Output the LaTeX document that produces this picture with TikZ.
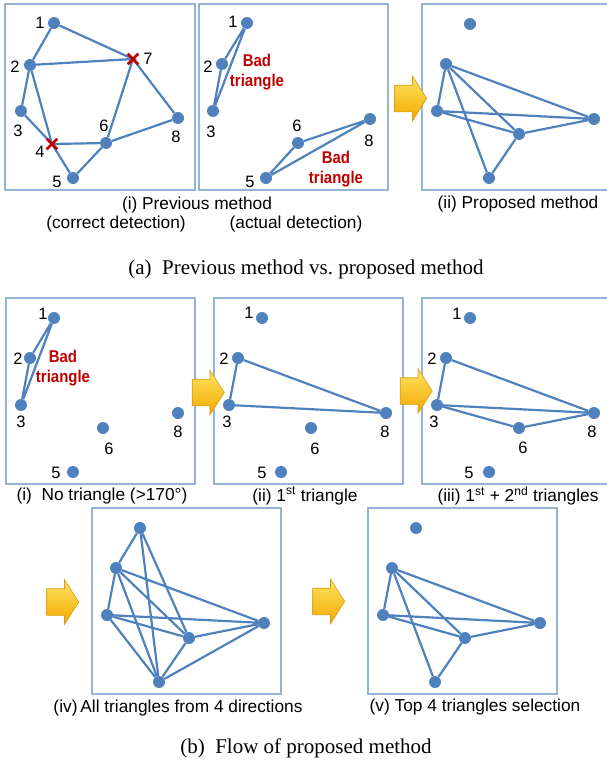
\documentclass[tikz,border=0pt]{standalone}
\usepackage{fontspec}
\setmainfont{Liberation Sans}
\newfontfamily\capfont{Liberation Serif}
\newfontfamily\badfont[FakeStretch=0.88]{Liberation Sans}
\usepackage{tikz}
\usetikzlibrary{shapes.arrows, shapes.misc, positioning}
\definecolor{dotblue}{RGB}{79,129,189}
\definecolor{boxblue}{RGB}{149,179,215}
\definecolor{badred}{RGB}{192,0,0}
\definecolor{arrowtop}{RGB}{255,228,96}
\definecolor{arrowbot}{RGB}{242,168,0}
\definecolor{arrowedge}{RGB}{214,158,20}

\begin{document}
\begin{tikzpicture}[
        x=1pt, y=-1pt,
        panel/.style={draw=boxblue, line width=1.1pt},
        dot/.style={circle, fill=dotblue, inner sep=0pt, minimum size=12pt},
        xmark/.style={cross out, draw=badred, line width=2.6pt, inner sep=0pt, minimum size=8pt},
        edge/.style={draw=dotblue, line width=2.2pt},
        num/.style={font=\fontsize{16.5}{18}\selectfont, inner sep=0pt},
        bad/.style={font=\badfont\fontsize{17}{20}\selectfont\bfseries, text=badred, align=center, inner sep=0pt},
        captxt/.style={font=\fontsize{17.3}{20}\selectfont, inner sep=0pt},
        subcap/.style={font=\capfont\fontsize{21}{24}\selectfont, inner sep=0pt},
        yarrow/.style={single arrow, single arrow tip angle=115, single arrow head extend=9pt,
            minimum height=32pt, minimum width=44pt, inner xsep=0pt, inner ysep=13pt,
            top color=arrowtop, bottom color=arrowbot, draw=arrowedge, line width=0.6pt}
    ]
        \clip (0,0) rectangle (607,771);

        % (a)(i) previous method, correct detection
        \begin{scope}[shift={(5,4)}]
        \draw[panel] (0,0) rectangle (190,186);
        \node[dot] (ok1) at (49,19) {};
        \node[dot] (ok2) at (25,61) {};
        \node[dot] (ok3) at (16,107) {};
        \coordinate (ok4) at (47,140);
        \node[dot] (ok5) at (68,174) {};
        \node[dot] (ok6) at (101,139) {};
        \coordinate (ok7) at (128,55);
        \node[dot] (ok8) at (173,114) {};
        \draw[edge] (ok1) -- (ok2) -- (ok3) -- (ok4);
        \draw[edge] (ok1) -- (ok7) -- (ok2) -- (ok4) -- (ok5) -- (ok6) -- (ok4);
        \draw[edge] (ok7) -- (ok6) -- (ok8) -- (ok7);
        \node[xmark] (ok4x) at (ok4) {};
        \node[xmark] (ok7x) at (ok7) {};
        \node[num] (ok1l) at (35,19) {1};
        \node[num] (ok2l) at (10,63) {2};
        \node[num] (ok3l) at (13,127) {3};
        \node[num] (ok4l) at (35,148) {4};
        \node[num] (ok5l) at (52,178) {5};
        \node[num] (ok6l) at (99,122) {6};
        \node[num] (ok7l) at (143,55) {7};
        \node[num] (ok8l) at (171,133) {8};
        \end{scope}

        % (a)(i) previous method, actual detection
        \begin{scope}[shift={(199,4)}]
        \draw[panel] (0,0) rectangle (189,186);
        \node[dot] (act1) at (48,19) {};
        \node[dot] (act2) at (23,60) {};
        \node[dot] (act3) at (14,107) {};
        \node[dot] (act6) at (99,139) {};
        \node[dot] (act8) at (171,115) {};
        \node[dot] (act5) at (67,174) {};
        \draw[edge] (act1) -- (act2) -- (act3) -- (act1);
        \draw[edge] (act5) -- (act6) -- (act8) -- (act5);
        \node[num] (act1l) at (34,18) {1};
        \node[num] (act2l) at (9,63) {2};
        \node[num] (act3l) at (12,128) {3};
        \node[num] (act6l) at (98,122) {6};
        \node[num] (act8l) at (170,137) {8};
        \node[num] (act5l) at (51,178) {5};
        \node[bad] (actbad1) at (58,68) {Bad\\triangle};
        \node[bad] (actbad2) at (137,165) {Bad\\triangle};
        \end{scope}

        % (a)(ii) proposed method
        \begin{scope}[shift={(422,4)}]
        \draw[panel] (0,0) rectangle (189,186);
        \node[dot] (prop1) at (48,20) {};
        \node[dot] (prop2) at (24,60) {};
        \node[dot] (prop3) at (15,107) {};
        \node[dot] (prop6) at (97,130) {};
        \node[dot] (prop8) at (172,115) {};
        \node[dot] (prop5) at (67,174) {};
        \draw[edge] (prop3) -- (prop2) -- (prop8) -- (prop3) -- (prop6) -- (prop8);
        \draw[edge] (prop2) -- (prop6) -- (prop5) -- (prop2);
        \end{scope}

        % (b)(i) no triangle
        \begin{scope}[shift={(6,298)}]
        \draw[panel] (0,0) rectangle (189,186);
        \node[dot] (no1) at (48,20) {};
        \node[dot] (no2) at (24,60) {};
        \node[dot] (no3) at (15,107) {};
        \node[dot] (no6) at (97,130) {};
        \node[dot] (no8) at (172,115) {};
        \node[dot] (no5) at (67,174) {};
        \draw[edge] (no1) -- (no2) -- (no3) -- (no1);
        \node[num] (no1l) at (37,16) {1};
        \node[num] (no2l) at (12,61) {2};
        \node[num] (no3l) at (15,124) {3};
        \node[num] (no6l) at (103,151) {6};
        \node[num] (no8l) at (172,134) {8};
        \node[num] (no5l) at (50,175) {5};
        \node[bad] (nobad) at (57,70) {Bad\\triangle};
        \end{scope}

        % (b)(ii) 1st triangle
        \begin{scope}[shift={(214,298)}]
        \draw[panel] (0,0) rectangle (189,186);
        \node[dot] (fst1) at (48,20) {};
        \node[dot] (fst2) at (24,60) {};
        \node[dot] (fst3) at (15,107) {};
        \node[dot] (fst6) at (97,130) {};
        \node[dot] (fst8) at (172,115) {};
        \node[dot] (fst5) at (67,174) {};
        \draw[edge] (fst2) -- (fst3) -- (fst8) -- (fst2);
        \node[num] (fst1l) at (35,15) {1};
        \node[num] (fst2l) at (10,61) {2};
        \node[num] (fst3l) at (13,124) {3};
        \node[num] (fst6l) at (101,151) {6};
        \node[num] (fst8l) at (171,134) {8};
        \node[num] (fst5l) at (48,175) {5};
        \end{scope}

        % (b)(iii) 1st + 2nd triangles
        \begin{scope}[shift={(422,298)}]
        \draw[panel] (0,0) rectangle (189,186);
        \node[dot] (snd1) at (48,20) {};
        \node[dot] (snd2) at (24,60) {};
        \node[dot] (snd3) at (15,107) {};
        \node[dot] (snd6) at (97,130) {};
        \node[dot] (snd8) at (172,115) {};
        \node[dot] (snd5) at (67,174) {};
        \draw[edge] (snd2) -- (snd3) -- (snd8) -- (snd2);
        \draw[edge] (snd3) -- (snd6) -- (snd8);
        \node[num] (snd1l) at (35,16) {1};
        \node[num] (snd2l) at (10,61) {2};
        \node[num] (snd3l) at (12,124) {3};
        \node[num] (snd6l) at (101,150) {6};
        \node[num] (snd8l) at (170,134) {8};
        \node[num] (snd5l) at (47,175) {5};
        \end{scope}

        % (b)(iv) all triangles
        \begin{scope}[shift={(92,508)}]
        \draw[panel] (0,0) rectangle (189,186);
        \node[dot] (all1) at (48,20) {};
        \node[dot] (all2) at (24,60) {};
        \node[dot] (all3) at (15,107) {};
        \node[dot] (all6) at (97,130) {};
        \node[dot] (all8) at (172,115) {};
        \node[dot] (all5) at (67,174) {};
        \draw[edge] (all1) -- (all2) -- (all3) -- (all8) -- (all2) -- (all6) -- (all8) -- (all5) -- (all1) -- (all6);
        \draw[edge] (all2) -- (all5) -- (all3) -- (all6) -- (all5);
        \end{scope}

        % (b)(v) top 4 triangles
        \begin{scope}[shift={(368,508)}]
        \draw[panel] (0,0) rectangle (189,186);
        \node[dot] (top1) at (48,20) {};
        \node[dot] (top2) at (24,60) {};
        \node[dot] (top3) at (15,107) {};
        \node[dot] (top6) at (97,130) {};
        \node[dot] (top8) at (172,115) {};
        \node[dot] (top5) at (67,174) {};
        \draw[edge] (top3) -- (top2) -- (top8) -- (top3) -- (top6) -- (top8);
        \draw[edge] (top2) -- (top6) -- (top5) -- (top2);
        \end{scope}

        % flow arrows
        \node[yarrow] (arrprop) at (406.5,98.5) {};
        \node[yarrow] (arrfst) at (204,392.5) {};
        \node[yarrow] (arrsnd) at (412,391) {};
        \node[yarrow] (arrall) at (58.5,602) {};
        \node[yarrow] (arrtop) at (324.5,601.5) {};

        % captions
        \node[captxt] (capprev) at (197,205) {(i) Previous method};
        \node[captxt] (capok) at (116,224) {(correct detection)};
        \node[captxt] (capact) at (296,224) {(actual detection)};
        \node[captxt] (capprop) at (518,204) {(ii) Proposed method};
        \node[subcap] (capa) at (306,269) {(a)\ \ Previous method vs.\ proposed method};
        \node[captxt] (capno) at (102,496) {(i)\ \ No triangle (>170°)};
        \node[captxt] (capfst) at (305,496) {(ii) 1\textsuperscript{st} triangle};
        \node[captxt] (capsnd) at (518,496) {(iii) 1\textsuperscript{st} + 2\textsuperscript{nd} triangles};
        \node[captxt] (capall) at (178,708) {(iv)\,All triangles from 4 directions};
        \node[captxt] (captop) at (475,707) {(v) Top 4 triangles selection};
        \node[subcap] (capb) at (306,748) {(b)\ \ Flow of proposed method};
    \end{tikzpicture}
\end{document}
